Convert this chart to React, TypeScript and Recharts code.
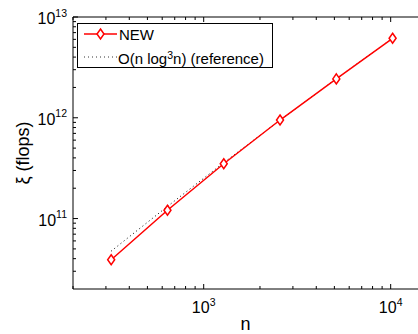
import React from 'react';
import { LineChart, Line, XAxis, YAxis, Legend, Label } from 'recharts';

// problem size n and measured cost
const nValues = [320, 640, 1280, 2560, 5120, 10240];
const newFlops = [3.9e10, 1.21e11, 3.5e11, 9.5e11, 2.43e12, 6.15e12];
const refFlops = [4.75e10, 1.32e11, 3.58e11, 9.46e11, 2.44e12, 6.16e12];
const seriesNames = ['NEW', 'O(n log', '3', 'n) (reference)'];

const xMajorTicks = [1000, 10000];
const xMajorExps = ['3', '4'];
const xMinorTicks = [200, 300, 400, 500, 600, 700, 800, 900, 2000, 3000, 4000, 5000, 6000, 7000, 8000, 9000];
const yMajorTicks = [1e11, 1e12, 1e13];
const yMajorExps = ['11', '12', '13'];
const yMinorTicks = [
  3e10, 4e10, 5e10, 6e10, 7e10, 8e10, 9e10,
  2e11, 3e11, 4e11, 5e11, 6e11, 7e11, 8e11, 9e11,
  2e12, 3e12, 4e12, 5e12, 6e12, 7e12, 8e12, 9e12,
];

const data = nValues.map((n, i) => ({ n, fresh: newFlops[i], ref: refFlops[i] }));

const FONT = '"Liberation Sans", Arial, sans-serif';
const RED = '#ff0000';

const Diamond = ({ cx, cy }: any) => {
  if (cx == null || cy == null) return null;
  return (
    <path
      d={`M${cx},${cy - 5} L${cx + 3.5},${cy} L${cx},${cy + 5} L${cx - 3.5},${cy} Z`}
      fill="#fff"
      stroke={RED}
      strokeWidth={1.5}
    />
  );
};

const expOf = (v: number, majors: number[], exps: string[]) => {
  const i = majors.findIndex(m => Math.abs(m - v) / m < 1e-6);
  return i >= 0 ? exps[i] : null;
};

const BottomTick = ({ x, y, payload }: any) => {
  const e = expOf(payload.value, xMajorTicks, xMajorExps);
  return (
    <g>
      <line x1={x} x2={x} y1={y} y2={y - (e ? 5 : 3)} stroke="#000" strokeWidth={1} />
      {e && (
        <text x={x} y={y + 24} textAnchor="middle" fontSize={16} fontFamily={FONT} fill="#000">
          10<tspan dy={-7.5} fontSize={10.5}>{e}</tspan>
        </text>
      )}
    </g>
  );
};

const TopTick = ({ x, y, payload }: any) => {
  const e = expOf(payload.value, xMajorTicks, xMajorExps);
  return <line x1={x} x2={x} y1={y} y2={y + (e ? 5 : 3)} stroke="#000" strokeWidth={1} />;
};

const LeftTick = ({ x, y, payload }: any) => {
  const e = expOf(payload.value, yMajorTicks, yMajorExps);
  return (
    <g>
      <line x1={x} x2={x + (e ? 5 : 3)} y1={y} y2={y} stroke="#000" strokeWidth={1} />
      {e && (
        <text x={x - 6} y={y + 7} textAnchor="end" fontSize={16} fontFamily={FONT} fill="#000">
          10<tspan dy={-7.5} fontSize={10.5}>{e}</tspan>
        </text>
      )}
    </g>
  );
};

const LegendBox = () => (
  <div
    style={{
      width: 196,
      height: 45,
      border: '1px solid #000',
      background: '#fff',
      boxSizing: 'border-box',
    }}
  >
    <svg width={194} height={43} style={{ display: 'block' }}>
      <line x1={6} x2={39} y1={10} y2={10} stroke={RED} strokeWidth={1.5} />
      <Diamond cx={22.5} cy={10} />
      <text x={41} y={16} fontSize={15} fontFamily={FONT} fill="#000">{seriesNames[0]}</text>
      <line x1={6} x2={39} y1={33} y2={33} stroke="#333" strokeWidth={1} strokeDasharray="1 3" />
      <text x={40} y={40} fontSize={15} fontFamily={FONT} fill="#000">
        {seriesNames[1]}
        <tspan dy={-4.7} fontSize={10.5}>{seriesNames[2]}</tspan>
        <tspan dy={4.7}>{seriesNames[3]}</tspan>
      </text>
    </svg>
  </div>
);

export default function App() {
  return (
    <div style={{ position: 'absolute', left: 0, top: 0, width: 418, height: 334, overflow: 'hidden', background: '#fff' }}>
      <LineChart width={418} height={334} data={data} margin={{ top: 16, right: 0, left: 72, bottom: 44 }}>
        <XAxis
          xAxisId="bottom"
          dataKey="n"
          type="number"
          scale="log"
          domain={[200, 14000]}
          allowDataOverflow
          ticks={[...xMinorTicks, ...xMajorTicks]}
          interval={0}
          height={1}
          tickSize={0}
          tickMargin={0}
          tickLine={false}
          tick={<BottomTick />}
          axisLine={{ stroke: '#000', strokeWidth: 1 }}
        >
          <Label
            content={({ viewBox }: any) => (
              <text
                x={viewBox.x + viewBox.width / 2}
                y={viewBox.y + 41}
                textAnchor="middle"
                fontSize={18}
                fontFamily={FONT}
                fill="#000"
              >
                n
              </text>
            )}
          />
        </XAxis>
        <XAxis
          xAxisId="top"
          orientation="top"
          dataKey="n"
          type="number"
          scale="log"
          domain={[200, 14000]}
          allowDataOverflow
          ticks={[...xMinorTicks, ...xMajorTicks]}
          interval={0}
          height={1}
          tickSize={0}
          tickMargin={0}
          tickLine={false}
          tick={<TopTick />}
          axisLine={{ stroke: '#000', strokeWidth: 1 }}
        />
        <YAxis
          yAxisId="left"
          type="number"
          scale="log"
          domain={[2e10, 1e13]}
          allowDataOverflow
          ticks={[...yMinorTicks, ...yMajorTicks]}
          interval={0}
          width={1}
          tickSize={0}
          tickMargin={0}
          tickLine={false}
          tick={<LeftTick />}
          axisLine={{ stroke: '#000', strokeWidth: 1 }}
        >
          <Label
            content={({ viewBox }: any) => {
              const cy = viewBox.y + viewBox.height / 2;
              return (
                <text
                  x={29}
                  y={cy}
                  transform={`rotate(-90, 29, ${cy})`}
                  textAnchor="middle"
                  fontSize={18}
                  fontFamily={FONT}
                  fill="#000"
                >
                  ξ (flops)
                </text>
              );
            }}
          />
        </YAxis>
        <Legend
          layout="vertical"
          align="center"
          verticalAlign="middle"
          wrapperStyle={{ top: 23, left: 77, width: 196, height: 45 }}
          content={() => <LegendBox />}
        />
        <Line
          xAxisId="bottom"
          yAxisId="left"
          dataKey="ref"
          stroke="#000"
          strokeWidth={1}
          strokeDasharray="1 3"
          dot={false}
          activeDot={false}
          isAnimationActive={false}
        />
        <Line
          xAxisId="bottom"
          yAxisId="left"
          dataKey="fresh"
          stroke={RED}
          strokeWidth={1.5}
          dot={<Diamond />}
          activeDot={false}
          isAnimationActive={false}
        />
      </LineChart>
    </div>
  );
}
